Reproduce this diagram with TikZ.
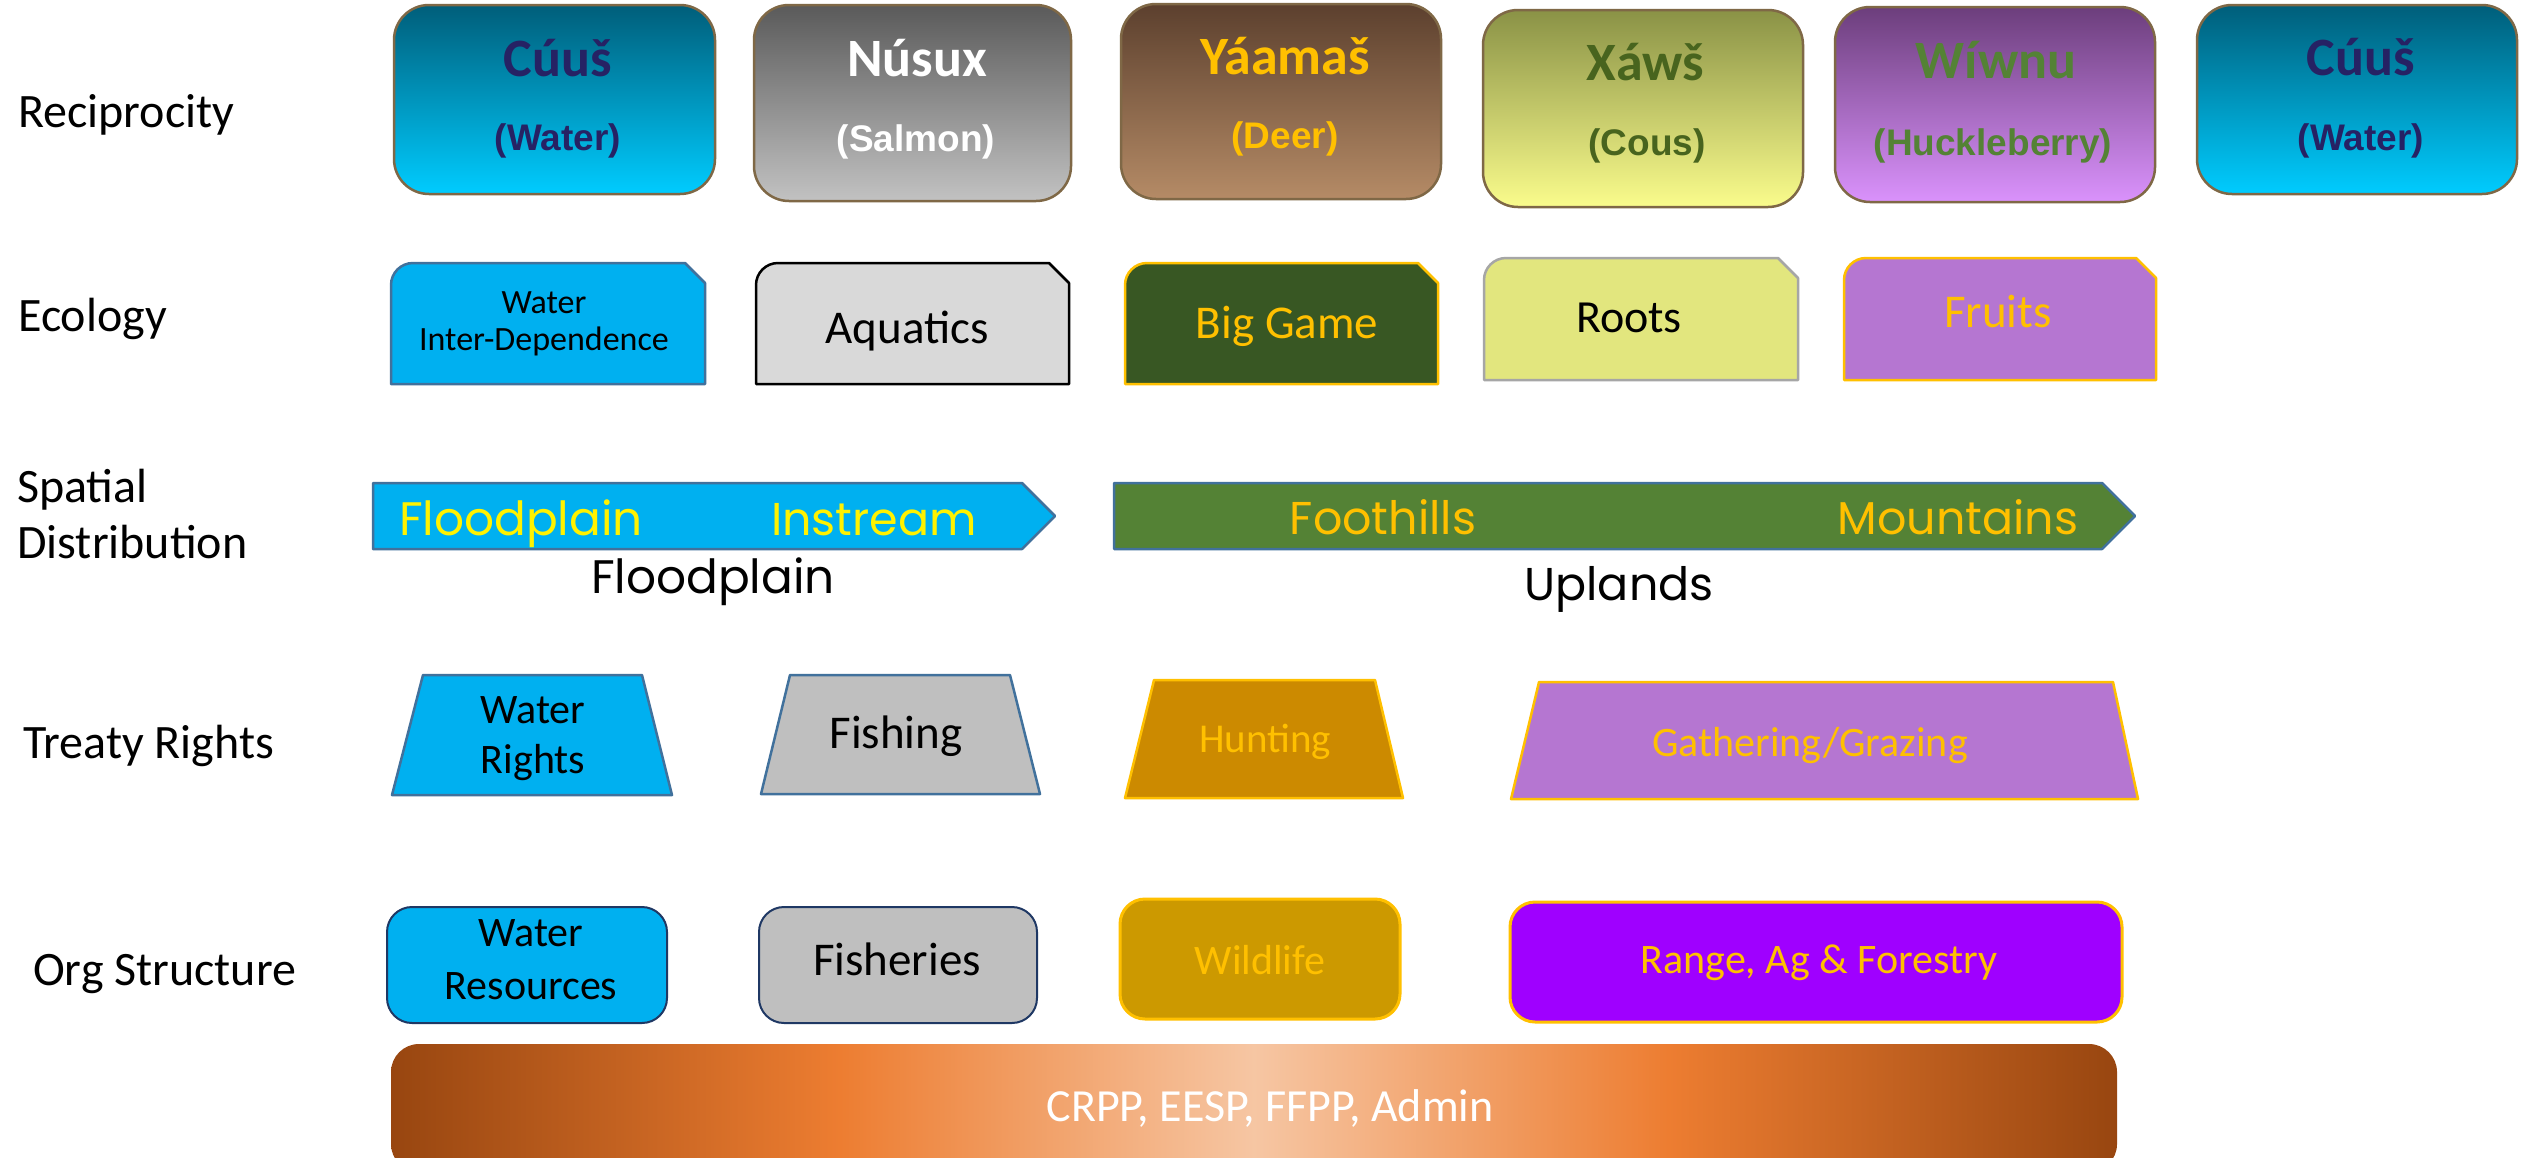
\documentclass[tikz,border=0pt]{standalone}
\usepackage{fontspec}
\setmainfont{Carlito}
\newfontfamily\arialf{Liberation Sans}
\newfontfamily\gothic{Poppins}
\definecolor{navyt}{RGB}{38,34,100}
\definecolor{gold}{RGB}{255,192,0}
\definecolor{olivet}{RGB}{72,100,30}
\definecolor{greent}{RGB}{84,130,53}
\definecolor{brd}{RGB}{127,104,70}
\definecolor{skyb}{RGB}{0,176,240}
\definecolor{blbrd}{RGB}{65,113,156}
\definecolor{navybrd}{RGB}{31,56,100}
\definecolor{cAtop}{RGB}{0,94,122}\definecolor{cAbot}{RGB}{0,204,255}
\definecolor{cBtop}{RGB}{90,90,90}\definecolor{cBbot}{RGB}{194,194,194}
\definecolor{cCtop}{RGB}{92,64,46}\definecolor{cCbot}{RGB}{181,139,102}
\definecolor{cDtop}{RGB}{138,146,70}\definecolor{cDbot}{RGB}{250,252,140}
\definecolor{cEtop}{RGB}{108,62,124}\definecolor{cEbot}{RGB}{218,146,252}
\definecolor{aqua}{RGB}{217,217,217}
\definecolor{gamegreen}{RGB}{56,87,35}
\definecolor{rootsy}{RGB}{226,230,126}
\definecolor{rootsbrd}{RGB}{166,166,166}
\definecolor{fruitp}{RGB}{181,118,209}
\definecolor{spgreen}{RGB}{84,130,53}
\definecolor{fishg}{RGB}{191,191,191}
\definecolor{huntc}{RGB}{204,138,0}
\definecolor{wildc}{RGB}{204,153,0}
\definecolor{rangep}{RGB}{159,0,255}
\definecolor{cpdark}{RGB}{152,70,16}
\definecolor{cporange}{RGB}{237,125,49}
\definecolor{cppeach}{RGB}{246,198,163}
\pgfdeclarehorizontalshading{copper}{100bp}{color(0bp)=(cpdark); color(25bp)=(cpdark); color(38bp)=(cporange); color(50bp)=(cppeach); color(62bp)=(cporange); color(75bp)=(cpdark); color(100bp)=(cpdark)}
\newcommand\snipbox[6]{%
  \path[fill=#5, draw=#6, line width=2.5pt, line join=round]
    (#1,#4) -- (#1,#2+22) arc[start angle=180, end angle=270, radius=22]
    -- (#3-20,#2) -- (#3,#2+20) -- (#3,#4) -- cycle;}
\begin{document}
\begin{tikzpicture}[x=1pt,y=-1pt,
  lab/.style={anchor=base west, inner sep=0, font=\fontsize{48}{58}\selectfont},
  rbox/.style={draw=brd, line width=2.5pt, rounded corners=35pt, inner sep=0},
  ttl/.style={anchor=base, inner sep=0, font=\bfseries\fontsize{54}{64}\selectfont},
  sub/.style={anchor=base, inner sep=0, font=\arialf\bfseries\fontsize{37}{44}\selectfont},
  txt/.style={anchor=base, inner sep=0},
  gtxt/.style={anchor=base, inner sep=0, font=\gothic\fontsize{46}{56}\selectfont},
  obox/.style={rounded corners=25pt, inner sep=0},
  shp/.style={line width=2.5pt, line join=round}]
\useasboundingbox (0,0) rectangle (2521,1157);
\clip (0,0) rectangle (2521,1157);
\fill[white] (0,0) rectangle (2521,1157);

% left labels
\node[lab] (lrec) at (18,127) {Reciprocity};
\node[lab] (leco) at (18,331) {Ecology};
\node[lab] (lsp1) at (17,502) {Spatial};
\node[lab] (lsp2) at (17,558) {Distribution};
\node[lab] (ltr) at (23,758) {Treaty Rights};
\node[lab] (lorg) at (33,985) {Org Structure};

% row 1: reciprocity
\node[rbox, top color=cAtop, bottom color=cAbot, minimum width=321pt, minimum height=189pt] (cuus1) at (554.5,99.5) {};
\node[rbox, top color=cBtop, bottom color=cBbot, minimum width=317pt, minimum height=196pt] (nusux) at (912.5,103) {};
\node[rbox, top color=cCtop, bottom color=cCbot, minimum width=320pt, minimum height=195pt] (yaamas) at (1281,101.5) {};
\node[rbox, top color=cDtop, bottom color=cDbot, minimum width=320pt, minimum height=197pt] (xaws) at (1643,108.5) {};
\node[rbox, top color=cEtop, bottom color=cEbot, minimum width=320pt, minimum height=195pt] (wiwnu) at (1995,104.5) {};
\node[rbox, top color=cAtop, bottom color=cAbot, minimum width=320pt, minimum height=189pt] (cuus2) at (2357,99.5) {};

\node[ttl, text=navyt] (t1) at (558,76) {Cúuš};
\node[sub, text=navyt] (s1) at (558,150) {(Water)};
\node[ttl, text=white] (t2) at (917,76) {Núsux};
\node[sub, text=white] (s2) at (916,151) {(Salmon)};
\node[ttl, text=gold] (t3) at (1285,74) {Yáamaš};
\node[sub, text=gold] (s3) at (1285,148) {(Deer)};
\node[ttl, text=olivet] (t4) at (1645,80) {Xáwš};
\node[sub, text=olivet] (s4) at (1647,155) {(Cous)};
\node[ttl, text=greent] (t5) at (1996,78) {Wíwnu};
\node[sub, text=greent] (s5) at (1993,155) {(Huckleberry)};
\node[ttl, text=navyt] (t6) at (2361,75) {Cúuš};
\node[sub, text=navyt] (s6) at (2361,150) {(Water)};

% row 2: ecology
\snipbox{391}{263}{705}{384}{skyb}{blbrd}
\snipbox{756}{263}{1069}{384}{aqua}{black}
\snipbox{1125}{263}{1438}{384}{gamegreen}{gold}
\snipbox{1484}{258}{1798}{380}{rootsy}{rootsbrd}
\snipbox{1844}{258}{2156}{380}{fruitp}{gold}
\node[txt, font=\fontsize{34}{40}\selectfont] (e1a) at (544,313) {Water};
\node[txt, font=\fontsize{34}{40}\selectfont] (e1b) at (544,350) {Inter-Dependence};
\node[txt, font=\fontsize{47}{56}\selectfont] (e2) at (907,343) {Aquatics};
\node[txt, text=gold, font=\fontsize{47}{56}\selectfont] (e3) at (1287,338) {Big Game};
\node[txt, font=\fontsize{46}{56}\selectfont] (e4) at (1629,332) {Roots};
\node[txt, text=gold, font=\fontsize{47}{56}\selectfont] (e5) at (1998,327) {Fruits};

% row 3: spatial distribution
\path[shp, fill=skyb, draw=blbrd] (373,483) -- (1022,483) -- (1055,516) -- (1022,549) -- (373,549) -- cycle;
\path[shp, fill=spgreen, draw=blbrd] (1114,483) -- (2102,483) -- (2135,516) -- (2102,549) -- (1114,549) -- cycle;
\node[gtxt, text=yellow, font=\gothic\fontsize{47}{56}\selectfont] (g1) at (521,535) {Floodplain};
\node[gtxt, text=yellow] (g2) at (874,535) {Instream};
\node[gtxt, text=gold] (g3) at (1383,534) {Foothills};
\node[gtxt, text=gold] (g4) at (1958,534) {Mountains};
\node[gtxt, text=black, font=\gothic\fontsize{47}{56}\selectfont] (g5) at (713,593) {Floodplain};
\node[gtxt, text=black] (g6) at (1619,600) {Uplands};

% row 4: treaty rights
\path[shp, fill=skyb, draw=blbrd] (392,795) -- (423,675) -- (642,675) -- (672,795) -- cycle;
\path[shp, fill=fishg, draw=blbrd] (761,794) -- (790,675) -- (1010,675) -- (1040,794) -- cycle;
\path[shp, fill=huntc, draw=gold] (1125,798) -- (1154,680) -- (1375,680) -- (1403,798) -- cycle;
\path[shp, fill=fruitp, draw=gold] (1511,799) -- (1539,682) -- (2113,682) -- (2138,799) -- cycle;
\node[txt, font=\fontsize{42}{50}\selectfont] (r1a) at (533,723) {Water};
\node[txt, font=\fontsize{42}{50}\selectfont] (r1b) at (533,773) {Rights};
\node[txt, font=\fontsize{47}{56}\selectfont] (r2) at (896,748) {Fishing};
\node[txt, text=gold, font=\fontsize{41}{50}\selectfont] (r3) at (1265,752) {Hunting};
\node[txt, text=gold, font=\fontsize{42}{50}\selectfont] (r4) at (1810,756) {Gathering/Grazing};

% row 5: org structure
\node[obox, fill=skyb, draw=navybrd, line width=2pt, minimum width=280pt, minimum height=116pt] (o1) at (527,965) {};
\node[obox, fill=fishg, draw=navybrd, line width=2pt, minimum width=278pt, minimum height=116pt] (o2) at (898,965) {};
\node[obox, fill=wildc, draw=gold, line width=3pt, minimum width=280pt, minimum height=120pt] (o3) at (1260,959) {};
\node[obox, fill=rangep, draw=gold, line width=3pt, minimum width=612pt, minimum height=120pt] (o4) at (1816,962) {};
\node[txt, font=\fontsize{42}{50}\selectfont] (o1a) at (531,946) {Water};
\node[txt, font=\fontsize{42}{50}\selectfont] (o1b) at (531,999) {Resources};
\node[txt, font=\fontsize{47}{56}\selectfont] (o2t) at (897,975) {Fisheries};
\node[txt, text=gold, font=\fontsize{42}{50}\selectfont] (o3t) at (1260,974) {Wildlife};
\node[txt, text=gold, font=\fontsize{42}{50}\selectfont] (o4t) at (1819,973) {Range, Ag \& Forestry};

% bottom bar
\node[shading=copper, rounded corners=28pt, inner sep=0, minimum width=1726pt, minimum height=128pt] (adm) at (1254,1108) {};
\node[txt, text=white, font=\fontsize{46}{56}\selectfont] (admt) at (1270,1121) {CRPP, EESP, FFPP, Admin};
\end{tikzpicture}
\end{document}
